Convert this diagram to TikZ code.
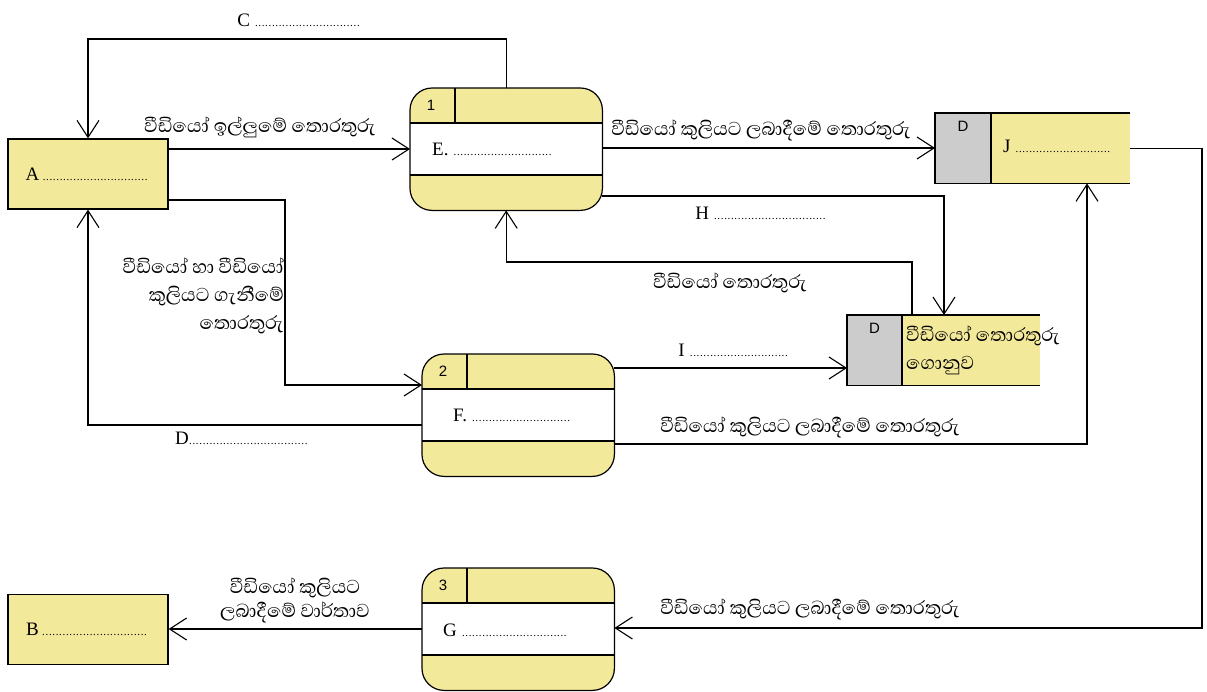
\documentclass[tikz,border=0pt]{standalone}
\usepackage{fontspec}
\setmainfont{Liberation Serif}
\newfontfamily\sinhalafont[Script=Sinhala]{Abhaya Libre}
\newfontfamily\sansf{Liberation Sans}
\usetikzlibrary{arrows.meta,calc}
\definecolor{boxy}{HTML}{F3E99B}
\definecolor{storeg}{HTML}{CCCCCC}
\newcommand\dotline[1]{\makebox[#1]{\leaders\hbox to 3.4pt{\hss\fontsize{11}{11}\selectfont.\hss}\hfill}}
\tikzset{
  bl/.style={line width=1.2pt, draw=black},
  flow/.style={line width=1.2pt, -{Straight Barb[length=17pt,width=22pt,line width=1.1pt]}},
  ext/.style={draw=black, line width=1.3pt, fill=boxy, minimum width=160pt, minimum height=70pt, inner sep=0pt, font=\fontsize{19}{20}\selectfont},
  proc/.style={fill=boxy, rounded corners=22pt, minimum width=192pt, minimum height=122pt, inner sep=0pt},
  ptxt/.style={font=\fontsize{19}{20}\selectfont, inner sep=0pt},
  lat/.style={font=\fontsize{19}{20}\selectfont, inner sep=0pt},
  sl/.style={font=\sinhalafont\fontsize{24}{28}\selectfont, inner sep=0pt},
}
\newcommand\mkproc[4]{%
  \node[proc, anchor=north west] (#1) at (#2,#3) {};
  \fill[white] ([yshift=-35pt]#1.north west) rectangle ([yshift=-87pt]#1.north east);
  \draw[bl] ([yshift=-35pt]#1.north west) -- ([yshift=-35pt]#1.north east);
  \draw[bl] ([yshift=-87pt]#1.north west) -- ([yshift=-87pt]#1.north east);
  \draw[bl] ([xshift=45pt]#1.north west) -- ([xshift=45pt,yshift=-35pt]#1.north west);
  \draw[bl, rounded corners=22pt] (#1.north west) rectangle (#1.south east);
  \node[font=\sansf\fontsize{15}{15}\selectfont, inner sep=0pt] (#1n) at ([xshift=21pt,yshift=-17pt]#1.north west) {#4};
}
\newcommand\mkstore[5]{%
  \node[anchor=north west, minimum width=#4, minimum height=70pt, fill=boxy, inner sep=0pt] (#1) at (#2,#3) {};
  \fill[storeg] (#1.north west) rectangle ([xshift=#5]#1.south west);
  \draw[bl] (#1.north east) -- (#1.north west) -- (#1.south west) -- (#1.south east);
  \draw[bl] ([xshift=#5]#1.north west) -- ([xshift=#5]#1.south west);
  \node[font=\sansf\fontsize{15}{15}\selectfont, inner sep=0pt] (#1d) at ([xshift=#5/2,yshift=-13pt]#1.north west) {D};
}
\begin{document}
\begin{tikzpicture}[x=1pt,y=-1pt]
\useasboundingbox (0,0) rectangle (1207,691);
\fill[white] (0,0) rectangle (1207,691);

% external entities
\node[ext] (A) at (88,174) {A\,\dotline{108pt}};
\node[ext] (B) at (88,629.5) {B\,\dotline{108pt}};

% processes
\mkproc{p1}{410}{88}{1}
\mkproc{p2}{422}{354}{2}
\mkproc{p3}{422}{568}{3}
\node[ptxt, anchor=west] (p1t) at (432,149) {E. \dotline{100pt}};
\node[ptxt, anchor=west] (p2t) at (453,415) {F. \dotline{100pt}};
\node[ptxt, anchor=west] (p3t) at (443,630) {G \dotline{108pt}};

% data stores
\mkstore{J}{935}{113}{195pt}{56pt}
\mkstore{ds}{847}{315}{193pt}{55pt}
\node[lat, anchor=west] (Jt) at (1003,146) {J \dotline{98pt}};
\node[sl, anchor=west, align=left] (dst) at (906,350) {වීඩියෝ තොරතුරු\\ගොනුව};

% connectors
\draw[flow] (p1.north) -- (p1.north |- 0,39) -| (A.north);
\draw[flow] (A.east |- 0,149) -- (p1.west |- 0,149);
\draw[flow] (A.east |- 0,200) -| (285,385) -- (p2.west |- 0,385);
\draw[flow] (p2.west |- 0,425) -| (A.south);
\draw[flow] (p1.east |- 0,148) -- (J.west |- 0,148);
\draw[flow] (p1.east |- 0,196) -| ([xshift=97pt]ds.north west);
\draw[flow] ([xshift=65pt]ds.north west) -- ([xshift=65pt]ds.north west |- 0,262) -| (p1.south);
\draw[flow] (p2.east |- 0,368) -- (ds.west |- 0,368);
\draw[flow] (p2.east |- 0,444) -| ([xshift=152pt]J.south west);
\draw[flow] (J.east) -| (1202,628) -- (p3.east |- 0,628);
\draw[flow] (p3.west |- 0,629) -- (B.east |- 0,629);

% labels
\node[lat] (lC) at (300,20) {C \dotline{108pt}};
\node[sl] (l1) at (260,127) {වීඩියෝ ඉල්ලුමේ තොරතුරු};
\node[sl] (l2) at (761,130) {වීඩියෝ කුලියට ලබාදීමේ තොරතුරු};
\node[lat] (lH) at (762,213) {H \dotline{115pt}};
\node[sl] (l3) at (730,283) {වීඩියෝ තොරතුරු};
\node[sl, align=right, anchor=east] (l4) at (284,296) {වීඩියෝ හා වීඩියෝ\\කුලියට ගැනීමේ\\තොරතුරු};
\node[lat] (lI) at (734,350) {I \dotline{100pt}};
\node[lat] (lD) at (243,438) {D\dotline{122pt}};
\node[sl] (l5) at (810,427) {වීඩියෝ කුලියට ලබාදීමේ තොරතුරු};
\node[sl] (l6) at (810,609) {වීඩියෝ කුලියට ලබාදීමේ තොරතුරු};
\node[sl, align=center, font=\sinhalafont\fontsize{24}{24}\selectfont] (l7) at (295,600) {වීඩියෝ කුලියට\\ලබාදීමේ වාර්තාව};
\end{tikzpicture}
\end{document}
